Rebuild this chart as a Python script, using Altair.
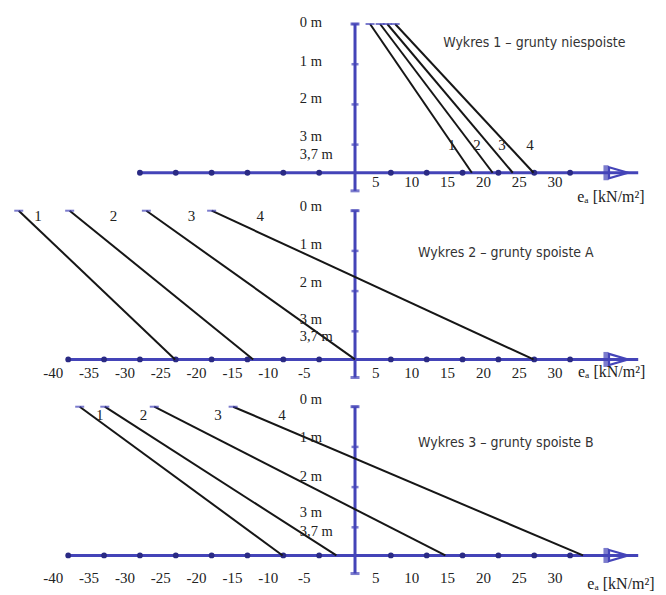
import altair as alt
import pandas as pd

# ---------------- data ----------------
depth_ticks = [0, 1, 2, 3]
axis_depth = 3.7
depth_tick_labels = ["0 m", "1 m", "2 m", "3 m", "3,7 m"]
depth_label_pos_1 = [-0.02, 0.95, 1.87, 2.81, 3.26]
depth_label_pos_2 = [-0.10, 0.85, 1.80, 2.73, 3.13]
depth_label_pos_3 = [-0.17, 0.78, 1.74, 2.64, 3.11]

x_dots_neg_1 = [-30, -25, -20, -15, -10, -5]
x_dots_neg = [-40, -35, -30, -25, -20, -15, -10, -5]
x_dots_pos = [5, 10, 15, 20, 25, 30]
x_labels_1 = [5, 10, 15, 20, 25, 30]
x_labels_23 = [-40, -35, -30, -25, -20, -15, -10, -5, 5, 10, 15, 20, 25, 30]

titles = ["Wykres 1 – grunty niespoiste",
          "Wykres 2 – grunty spoiste A",
          "Wykres 3 – grunty spoiste B"]
series = ["1", "2", "3", "4"]

top_1 = [2.1, 3.5, 4.5, 5.6]
bottom_1 = [16.3, 19.2, 22.0, 24.9]
top_2 = [-46.9, -39.8, -29.1, -20.0]
bottom_2 = [-25.1, -14.2, 0.0, 24.9]
top_3 = [-38.4, -34.9, -28.0, -17.0]
bottom_3 = [-10.1, -2.6, 12.6, 31.8]

num_x_1 = [13.5, 17.0, 20.5, 24.4]
num_d_1 = 3.0
num_x_2 = [-44.2, -33.7, -22.8, -13.2]
num_d_2 = 0.14
num_x_3 = [-35.6, -29.5, -19.1, -10.2]
num_d_3 = 0.2

# ---------------- styling / layout ----------------
W = 650
X_DOMAIN = [-48.4, 42.26]
BLUE = "#4444b8"
DOT = "#2a2a84"
SERIF = "Liberation Serif, Times New Roman, serif"
NARROW = "Liberation Sans Narrow, DejaVu Sans Condensed, Arial Narrow, sans-serif"


def panel(height, ydom, axis_start, neg_dots, labels, label_depth, dlabel_pos,
          tops, bottoms, num_x, num_d, title, title_x, title_d, unit_x, unit_d):
    xs = alt.Scale(domain=X_DOMAIN, nice=False, zero=False)
    ys = alt.Scale(domain=ydom, reverse=True, nice=False, zero=False)
    X = lambda f: alt.X(f, type="quantitative", scale=xs, axis=None)
    Y = lambda f: alt.Y(f, type="quantitative", scale=ys, axis=None)

    hax = pd.DataFrame({"x": [axis_start], "x2": [39.5], "d": [axis_depth]})
    h_rule = alt.Chart(hax).mark_rule(color=BLUE, strokeWidth=3).encode(
        x=X("x"), x2="x2", y=Y("d"))

    vax = pd.DataFrame({"x": [0], "d": [0], "d2": [4.15]})
    v_rule = alt.Chart(vax).mark_rule(color=BLUE, strokeWidth=3).encode(
        x=X("x"), y=Y("d"), y2="d2")

    vt = pd.DataFrame({"x": [0] * len(depth_ticks), "d": depth_ticks})
    v_ticks = alt.Chart(vt).mark_tick(color=BLUE, orient="horizontal", size=7,
                                      thickness=2.5).encode(x=X("x"), y=Y("d"))
    caps = pd.DataFrame({"x": [0, 0], "d": [0, 4.15]})
    v_caps = alt.Chart(caps).mark_tick(color=BLUE, orient="horizontal", size=9,
                                       thickness=3).encode(x=X("x"), y=Y("d"))

    dots = pd.DataFrame({"x": neg_dots + x_dots_pos})
    dots["d"] = axis_depth
    h_dots = alt.Chart(dots).mark_circle(color=DOT, size=34, opacity=1).encode(
        x=X("x"), y=Y("d"))

    bar = pd.DataFrame({"x": [35], "d": [axis_depth]})
    a_bar = alt.Chart(bar).mark_tick(color=BLUE, orient="vertical", size=15,
                                     thickness=5).encode(x=X("x"), y=Y("d"))
    tri = pd.DataFrame({"x": [36.75], "d": [axis_depth]})
    a_tri = alt.Chart(tri).mark_point(shape="M-1,-0.58L1,0L-1,0.58Z", size=361,
                                      filled=False, color=BLUE, strokeWidth=2.2,
                                      opacity=1).encode(x=X("x"), y=Y("d"))

    ln = pd.DataFrame({"s": series, "top": tops, "bottom": bottoms,
                       "d0": [0] * 4, "d1": [axis_depth] * 4})
    lines = alt.Chart(ln).mark_rule(color="#161616", strokeWidth=2).encode(
        x=X("top"), x2="bottom", y=Y("d0"), y2="d1")
    top_ticks = alt.Chart(ln).mark_tick(color=BLUE, orient="horizontal", size=9,
                                        thickness=2).encode(x=X("top"), y=Y("d0"))

    nums = pd.DataFrame({"s": series, "x": num_x, "d": [num_d] * 4})
    num_txt = alt.Chart(nums).mark_text(font=SERIF, fontSize=15, color="#222",
                                        align="center", baseline="middle").encode(
        x=X("x"), y=Y("d"), text="s:N")

    xl = pd.DataFrame({"x": labels, "t": [str(v) for v in labels]})
    xl["d"] = label_depth
    x_txt = alt.Chart(xl).mark_text(font=SERIF, fontSize=15, color="#222",
                                    align="center", baseline="middle", dx=-15).encode(
        x=X("x"), y=Y("d"), text="t:N")

    dl = pd.DataFrame({"t": depth_tick_labels, "d": dlabel_pos, "x": [-7.7] * 5})
    d_txt = alt.Chart(dl).mark_text(font=SERIF, fontSize=14.5, color="#222",
                                    align="left", baseline="middle").encode(
        x=X("x"), y=Y("d"), text="t:N")

    tl = pd.DataFrame({"t": [title], "x": [title_x], "d": [title_d]})
    t_txt = alt.Chart(tl).mark_text(font=NARROW, fontSize=14, color="#333",
                                    align="left", baseline="middle").encode(
        x=X("x"), y=Y("d"), text="t:N")

    ul = pd.DataFrame({"t": ["eₐ [kN/m²]"], "x": [unit_x], "d": [unit_d]})
    u_txt = alt.Chart(ul).mark_text(font=SERIF, fontSize=16, color="#222",
                                    align="left", baseline="middle").encode(
        x=X("x"), y=Y("d"), text="t:N")

    return alt.layer(h_rule, v_rule, v_ticks, v_caps, h_dots, a_bar, a_tri,
                     lines, top_ticks, num_txt, x_txt, d_txt, t_txt, u_txt
                     ).properties(width=W, height=height)


p1 = panel(190, [-0.398, 4.328], -30, x_dots_neg_1, x_labels_1, 3.92,
           depth_label_pos_1, top_1, bottom_1, num_x_1, num_d_1, titles[0],
           12.3, 0.47, 31.0, 4.3)
p2 = panel(195, [-0.316, 4.535], -40, x_dots_neg, x_labels_23, 4.04,
           depth_label_pos_2, top_2, bottom_2, num_x_2, num_d_2, titles[1],
           8.8, 1.06, 31.1, 4.02)
p3 = panel(194, [-0.341, 4.485], -40, x_dots_neg, x_labels_23, 4.27,
           depth_label_pos_3, top_3, bottom_3, num_x_3, num_d_3, titles[2],
           8.8, 0.9, 32.4, 4.4)

chart = alt.vconcat(p1, p2, p3, spacing=0, bounds="flush").properties(
    padding=0, background="white").configure_view(stroke=None)

chart.save("out.html", embed_options={"renderer": "svg", "actions": False})
